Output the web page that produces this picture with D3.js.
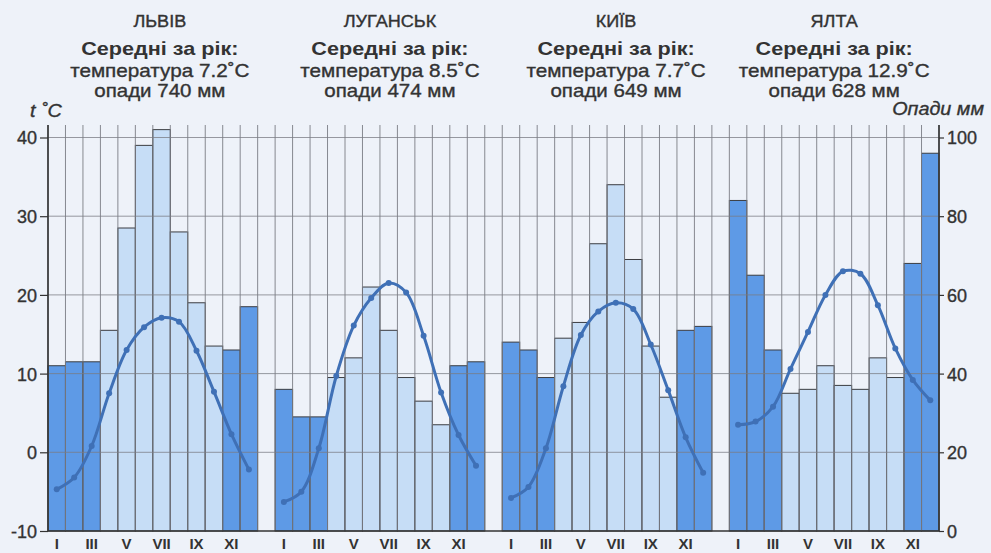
<!DOCTYPE html>
<html>
<head>
<meta charset="utf-8">
<script src="https://cdn.jsdelivr.net/npm/d3@7"></script>
<style>
  html, body { margin: 0; padding: 0; background: #eef2f9; }
  svg { display: block; }
  text { font-family: "Liberation Sans", Arial, sans-serif; fill: #333; }
  .heavy { stroke: #333; stroke-width: 0.35px; }
</style>
</head>
<body>
<svg id="chart" width="991" height="553"></svg>
<script>
// ---------- DATA ----------
const cities = ["ЛЬВІВ", "ЛУГАНСЬК", "КИЇВ", "ЯЛТА"];
const annualTemp = ["7.2", "8.5", "7.7", "12.9"];
const annualPrecip = ["740", "474", "649", "628"];
const monthLabels = ["I", "II", "III", "IV", "V", "VI", "VII", "VIII", "IX", "X", "XI", "XII"];
const shownMonthLabels = ["I", "III", "V", "VII", "IX", "XI"];
const winterMonths = ["I", "II", "III", "XI", "XII"];

const precipLviv    = [42, 43, 43, 51, 77, 98, 102, 76, 58, 47, 46, 57];
const precipLuhansk = [36, 29, 29, 39, 44, 62, 51, 39, 33, 27, 42, 43];
const precipKyiv    = [48, 46, 39, 49, 53, 73, 88, 69, 47, 34, 51, 52];
const precipYalta   = [84, 65, 46, 35, 36, 42, 37, 36, 44, 39, 68, 96];

const tempLviv    = [-4.7, -3.2, 0.8, 7.5, 13.0, 15.9, 17.1, 16.6, 12.9, 7.7, 2.3, -2.2];
const tempLuhansk = [-6.3, -5.0, 0.5, 9.7, 16.1, 19.6, 21.5, 20.3, 14.8, 7.6, 2.2, -1.7];
const tempKyiv    = [-5.8, -4.4, 0.5, 8.4, 14.9, 17.9, 19.0, 18.2, 13.7, 7.9, 1.9, -2.6];
const tempYalta   = [3.5, 3.9, 5.8, 10.6, 15.3, 20.0, 23.0, 22.7, 18.7, 13.2, 9.2, 6.6];

const tempTicks = [-10, 0, 10, 20, 30, 40];
const precipTicks = [0, 20, 40, 60, 80, 100];

const precipAll = [precipLviv, precipLuhansk, precipKyiv, precipYalta];
const tempAll = [tempLviv, tempLuhansk, tempKyiv, tempYalta];

// ---------- LAYOUT ----------
const svg = d3.select("#chart");
const left = 48, right = 939, bottom = 531, top40 = 137.5, plotTop = 125;
const slotsPerPanel = 13;
const totalSlots = cities.length * slotsPerPanel - 1;
const headerShift = [7, 10, 9, 0];

const x = d3.scaleLinear().domain([0, totalSlots]).range([left, right]);
const yT = d3.scaleLinear().domain([-10, 40]).range([bottom, top40]);
const yP = d3.scaleLinear().domain([0, 100]).range([bottom, top40]);

const colDark = "#5e9ae6";
const colLight = "#c6ddf6";
const colLine = "#3f70b6";
const colGrid = "#7a7d84";

// bars
cities.forEach((c, ci) => {
  const g = svg.append("g");
  g.selectAll("rect")
    .data(precipAll[ci])
    .join("rect")
    .attr("x", (d, i) => x(ci * slotsPerPanel + i))
    .attr("width", x(1) - x(0))
    .attr("y", d => yP(d))
    .attr("height", d => yP(0) - yP(d))
    .attr("fill", (d, i) => winterMonths.includes(monthLabels[i]) ? colDark : colLight)
    .attr("stroke", "#3b3d42")
    .attr("stroke-width", 1);
});

// grid
const grid = svg.append("g");
grid.selectAll("line.v")
  .data(d3.range(0, totalSlots + 1))
  .join("line")
  .attr("x1", d => x(d)).attr("x2", d => x(d))
  .attr("y1", plotTop).attr("y2", bottom)
  .attr("stroke", colGrid).attr("stroke-width", 0.9);
grid.selectAll("line.h")
  .data(tempTicks.slice(1))
  .join("line")
  .attr("x1", left).attr("x2", right)
  .attr("y1", d => yT(d)).attr("y2", d => yT(d))
  .attr("stroke", colGrid).attr("stroke-width", 0.9).attr("opacity", 0.85);

// axis lines
svg.append("line").attr("x1", left).attr("x2", left).attr("y1", plotTop).attr("y2", bottom)
  .attr("stroke", "#333").attr("stroke-width", 1.6);
svg.append("line").attr("x1", right).attr("x2", right).attr("y1", plotTop).attr("y2", bottom)
  .attr("stroke", "#333").attr("stroke-width", 1.6);
svg.append("line").attr("x1", left).attr("x2", right).attr("y1", bottom).attr("y2", bottom)
  .attr("stroke", "#333").attr("stroke-width", 1.6);

// left axis
const axL = svg.append("g").attr("transform", `translate(${left},0)`)
  .call(d3.axisLeft(yT).tickValues(tempTicks).tickSize(8).tickPadding(3).tickFormat(d => d));
axL.select(".domain").remove();
axL.selectAll("line").attr("stroke", "#333").attr("stroke-width", 1.2);
axL.selectAll("text").attr("class", "heavy").style("font-size", "18px")
  .style("font-family", "Liberation Sans, Arial, sans-serif")
  .attr("fill", "#333").attr("dy", "0.36em");

// right axis
const axR = svg.append("g").attr("transform", `translate(${right},0)`)
  .call(d3.axisRight(yP).tickValues(precipTicks).tickSize(5).tickPadding(3).tickFormat(d => d));
axR.select(".domain").remove();
axR.selectAll("line").attr("stroke", "#333").attr("stroke-width", 1.2);
axR.selectAll("text").attr("class", "heavy").style("font-size", "18px")
  .style("font-family", "Liberation Sans, Arial, sans-serif")
  .attr("fill", "#333").attr("dy", "0.36em");

// temperature lines
const line = d3.line()
  .x(d => d.x)
  .y(d => yT(d.t))
  .curve(d3.curveCatmullRom.alpha(0.5));
cities.forEach((c, ci) => {
  const pts = tempAll[ci].map((t, i) => ({ x: x(ci * slotsPerPanel + i + 0.5), t }));
  svg.append("path").datum(pts).attr("d", line)
    .attr("fill", "none").attr("stroke", colLine).attr("stroke-width", 3)
    .attr("stroke-linejoin", "round");
  svg.append("g").selectAll("circle").data(pts).join("circle")
    .attr("cx", d => d.x).attr("cy", d => yT(d.t)).attr("r", 3)
    .attr("fill", colLine);
});

// month labels
cities.forEach((c, ci) => {
  svg.append("g").selectAll("text")
    .data(shownMonthLabels)
    .join("text")
    .attr("x", d => x(ci * slotsPerPanel + monthLabels.indexOf(d) + 0.5))
    .attr("y", 549)
    .attr("text-anchor", "middle")
    .style("font-size", "15px")
    .style("font-weight", "bold")
    .text(d => d);
});

// headers
cities.forEach((c, ci) => {
  const cx = (x(ci * slotsPerPanel) + x(ci * slotsPerPanel + 12)) / 2 + headerShift[ci];
  const g = svg.append("g").attr("text-anchor", "middle").attr("transform", `translate(${cx},0)`);
  g.append("text").attr("class", "heavy").attr("transform", "translate(0,27) scale(1.13,1)")
    .style("font-size", "16px").text(c);
  g.append("text").attr("transform", "translate(0,55) scale(1.2,1)")
    .style("font-size", "18px").style("font-weight", "bold").text("Середні за рік:");
  g.append("text").attr("class", "heavy").attr("transform", "translate(0,77) scale(1.15,1)")
    .style("font-size", "18px").text("температура " + annualTemp[ci] + "˚C");
  g.append("text").attr("class", "heavy").attr("transform", "translate(0,97) scale(1.14,1)")
    .style("font-size", "18px").text("опади " + annualPrecip[ci] + " мм");
});

// axis titles
svg.append("text").attr("class", "heavy").attr("transform", "translate(30,117) scale(1.1,1)")
  .style("font-size", "18px").style("font-style", "italic").text("t ˚C");
svg.append("text").attr("class", "heavy").attr("transform", "translate(984,115) scale(1.1,1)")
  .attr("text-anchor", "end")
  .style("font-size", "18px").style("font-style", "italic").text("Опади мм");
</script>
</body>
</html>
